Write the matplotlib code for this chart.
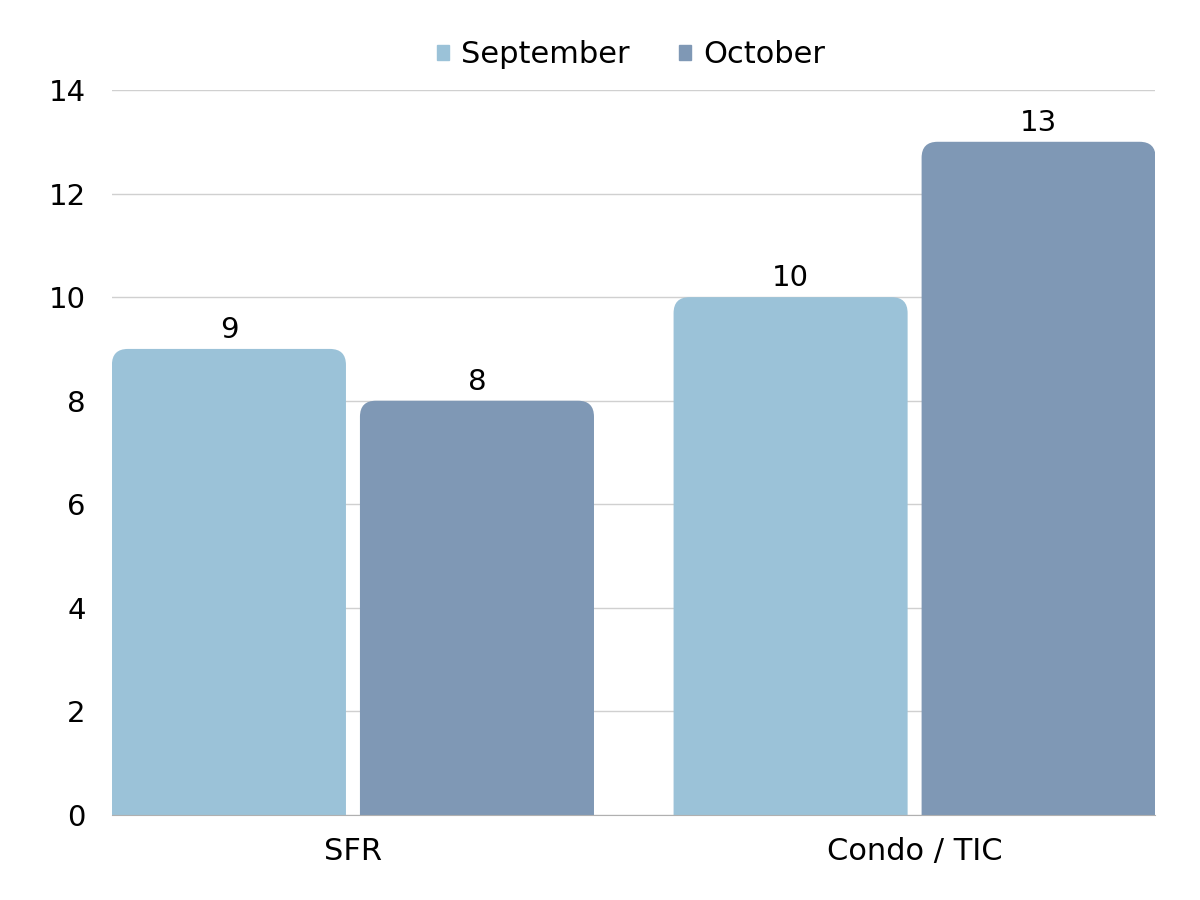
import matplotlib
matplotlib.use("Agg")
import matplotlib.pyplot as plt
from matplotlib.patches import PathPatch, Rectangle
from matplotlib.path import Path
import numpy as np

categories = ["SFR", "Condo / TIC"]
series_names = ["September", "October"]
september = [9, 10]
october = [8, 13]
colors = ["#9BC2D8", "#7F98B5"]

plt.rcParams['font.family'] = ['DejaVu Sans']


def top_rounded(x0, y0, w, h, rx, ry):
    # bar outline with rounded top corners only
    verts = [(x0, y0), (x0, y0 + h - ry), (x0, y0 + h), (x0 + rx, y0 + h),
             (x0 + w - rx, y0 + h), (x0 + w, y0 + h), (x0 + w, y0 + h - ry),
             (x0 + w, y0), (x0, y0)]
    codes = [Path.MOVETO, Path.LINETO, Path.CURVE3, Path.CURVE3, Path.LINETO,
             Path.CURVE3, Path.CURVE3, Path.LINETO, Path.CLOSEPOLY]
    return Path(verts, codes)


fig = plt.figure(figsize=(12, 9), dpi=100)
ax = fig.add_axes([112/1200, 85/900, 1043/1200, 725/900])

x = np.arange(len(categories))
width = 0.4167
offset = 0.2208

ax.set_xlim(-0.429, 1.428)
ax.set_ylim(0, 14)

# rounding in data units (about 16 px)
rx = 16 / 561.5
ry = 16 / (725 / 14)

for vals, name, col, sign in [(september, series_names[0], colors[0], -1),
                              (october, series_names[1], colors[1], 1)]:
    bars = ax.bar(x + sign * offset, vals, width, color=col, label=name)
    for b, v in zip(bars, vals):
        b.set_visible(False)
        bx, by, bw, bh = b.get_x(), b.get_y(), b.get_width(), b.get_height()
        ax.add_patch(PathPatch(top_rounded(bx, by, bw, bh, rx, ry),
                               facecolor=col, edgecolor="none", zorder=2))
        ax.text(bx + bw / 2, v + 0.1, str(v), ha="center", va="bottom",
                fontsize=21, color="black")

ax.set_yticks(range(0, 15, 2))
ax.grid(axis="y", color="#D0D0D0", linewidth=1)
ax.set_axisbelow(True)
for s in ["top", "right", "left"]:
    ax.spines[s].set_visible(False)
ax.spines["bottom"].set_color("#B0B0B0")
ax.spines["bottom"].set_zorder(3)
ax.tick_params(axis="y", length=0, pad=19, labelsize=21)
ax.tick_params(axis="x", length=0, pad=16, labelsize=22)
ax.set_xticks(x)
ax.set_xticklabels(categories)

handles = [Rectangle((0, 0), 1, 1, color=c) for c in colors]
fig.legend(handles, series_names, loc="center", bbox_to_anchor=(0.526, 0.939),
           ncol=2, frameon=False, fontsize=22, handlelength=0.4,
           handleheight=0.4, handletextpad=0.4, columnspacing=1.6)

fig.savefig("out.png", dpi=100)
